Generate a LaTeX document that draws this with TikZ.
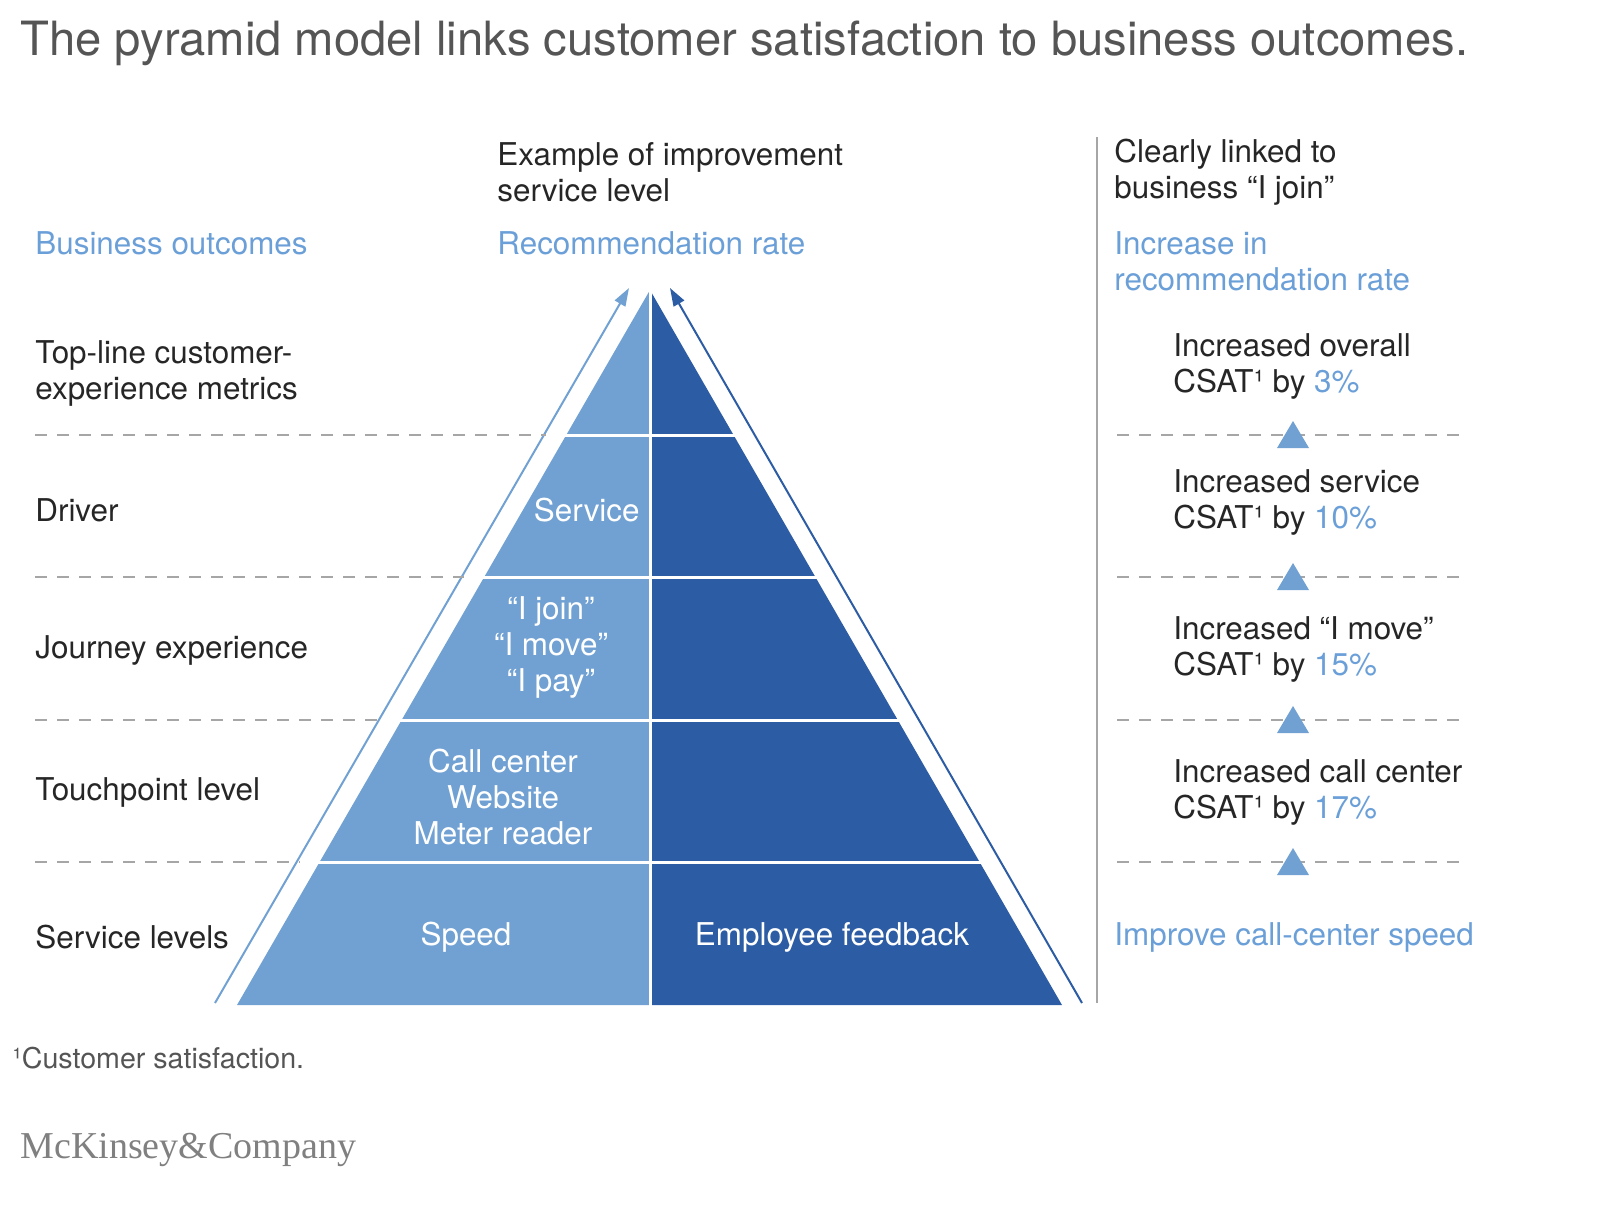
\documentclass[tikz,border=0pt]{standalone}
\usepackage{fontspec}
\setmainfont{TeX Gyre Heros}
\newfontfamily\logofont{Liberation Serif}
\usetikzlibrary{arrows.meta}
\definecolor{lightb}{HTML}{71A1D3}
\definecolor{darkb}{HTML}{2C5CA4}
\definecolor{txtb}{HTML}{6B9FD8}
\definecolor{titg}{HTML}{555555}
\tikzset{
 lbl/.style={anchor=west,font=\fontsize{15.7}{18}\selectfont,align=left,inner sep=0pt},
 hdr/.style={lbl,text=black!85},
 blu/.style={lbl,text=txtb},
 wt/.style={font=\fontsize{15.7}{18}\selectfont,text=white,align=center,inner sep=0pt},
 dsh/.style={draw=gray!70,dash pattern=on 6pt off 5pt,line width=0.6pt},
 tri/.style={fill=lightb,draw=none},
}
\begin{document}
\begin{tikzpicture}[x=0.5pt,y=-0.5pt]
\useasboundingbox (0,0) rectangle (1600,1211);
\node[anchor=west,inner sep=0pt,text=titg,font=\fontsize{23.6}{28}\selectfont] (title) at (20,43) {The pyramid model links customer satisfaction to business outcomes.};
% pyramid
\coordinate (apex) at (650,290);
\fill[lightb] (apex) -- (237,1005) -- (650,1005) -- cycle;
\fill[darkb] (apex) -- (1062,1005) -- (650,1005) -- cycle;
\foreach \y in {435,577,720,862}{
  \pgfmathsetmacro{\d}{(\y-290)/715*412.5}
  \draw[white,line width=1.5pt] (650-\d-2,\y) -- (650+\d+2,\y);
}
\draw[white,line width=1.5pt] (650,280) -- (650,1006);
% arrows
\coordinate (la) at (215,1003); \coordinate (lt) at (629,288);
\coordinate (ra) at (1082,1003); \coordinate (rt) at (670,288);
\draw[lightb,line width=1pt,-{Triangle[length=9pt,width=6pt]}] (la) -- (lt);
\draw[darkb,line width=1pt,-{Triangle[length=9pt,width=6pt]}] (ra) -- (rt);
% dashed
\foreach \y in {435,577,720,862}{
  \pgfmathsetmacro{\d}{(\y-290)/715*413+20}
  \draw[dsh] (35,\y) -- (650-\d,\y);
  \draw[dsh] (1117,\y) -- (1468,\y);
  \fill[tri] (1277,\y+13) -- (1309,\y+13) -- (1293,\y-14) -- cycle;
}
\draw[gray!70,line width=0.8pt] (1097,137) -- (1097,1003);
% headers
\node[hdr] (h1) at (497,172) {Example of improvement\\service level};
\node[blu] (h2) at (497,243) {Recommendation rate};
\node[blu] (h0) at (35,243) {Business outcomes};
\node[hdr] (h3) at (1114,172) {Clearly linked to\\business “I join”};
\node[blu] (h4) at (1114,261) {Increase in\\recommendation rate};
% left labels
\node[hdr] (l1) at (35,373) {Top-line customer-\\experience metrics};
\node[hdr] (l2) at (35,510) {Driver};
\node[hdr] (l3) at (35,650) {Journey experience};
\node[hdr] (l4) at (35,792) {Touchpoint level};
\node[hdr] (l5) at (35,937) {Service levels};
% pyramid texts
\node[wt,anchor=east] (p1) at (640,510) {Service};
\node[wt] (p2) at (551,647) {“I join”\\“I move”\\“I pay”};
\node[wt] (p3) at (503,797) {Call center\\Website\\Meter reader};
\node[wt] (p4) at (466,937) {Speed};
\node[wt] (p5) at (832,937) {Employee feedback};
% right texts
\node[hdr] (r1) at (1173,366) {Increased overall\\CSAT¹ by \textcolor{txtb}{3\%}};
\node[hdr] (r2) at (1173,502) {Increased service\\CSAT¹ by \textcolor{txtb}{10\%}};
\node[hdr] (r3) at (1173,649) {Increased “I move”\\CSAT¹ by \textcolor{txtb}{15\%}};
\node[hdr] (r4) at (1173,792) {Increased call center\\CSAT¹ by \textcolor{txtb}{17\%}};
\node[blu] (r5) at (1114,937) {Improve call-center speed};
% footer
\node[anchor=west,inner sep=0pt,text=titg,font=\fontsize{14.3}{17}\selectfont] (fn) at (12,1058) {¹Customer satisfaction.};
\node[anchor=west,inner sep=0pt,text=gray,font=\logofont\fontsize{19}{22}\selectfont] (logo) at (20,1150) {McKinsey\&Company};
\end{tikzpicture}
\end{document}
